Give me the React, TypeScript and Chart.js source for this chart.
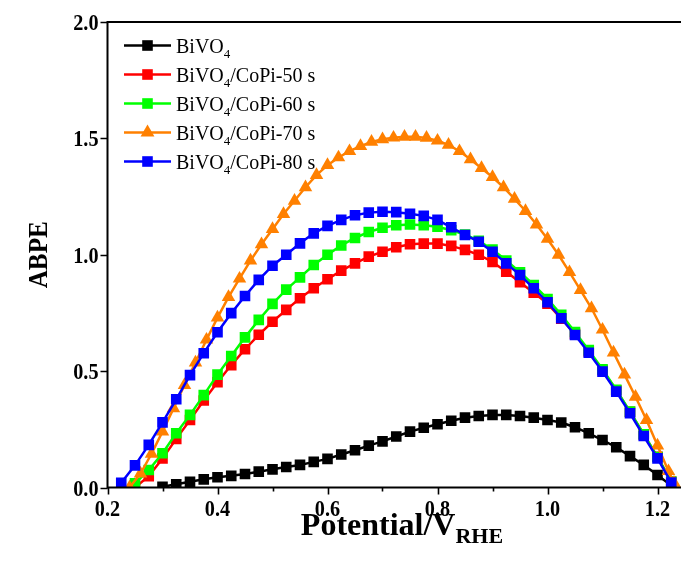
import React, { useEffect, useRef } from "react";
import { Chart, registerables } from "chart.js";

Chart.register(...registerables);

// ---------------- DATA ----------------
const seriesNames = [
  "BiVO4",
  "BiVO4/CoPi-50 s",
  "BiVO4/CoPi-60 s",
  "BiVO4/CoPi-70 s",
  "BiVO4/CoPi-80 s",
];
const seriesColors = ["#000000", "#FF0000", "#00FF00", "#FF8000", "#0000FF"];
const seriesMarkers = ["rect", "rect", "rect", "triangle", "rect"];

const blackX = [0.3, 0.325, 0.35, 0.375, 0.4, 0.425, 0.45, 0.475, 0.5, 0.525, 0.55, 0.575, 0.6, 0.625, 0.65, 0.675, 0.7, 0.725, 0.75, 0.775, 0.8, 0.825, 0.85, 0.875, 0.9, 0.925, 0.95, 0.975, 1.0, 1.025, 1.05, 1.075, 1.1, 1.125, 1.15, 1.175, 1.2, 1.225];
const blackY = [0.003, 0.014, 0.025, 0.035, 0.044, 0.05, 0.058, 0.068, 0.078, 0.088, 0.097, 0.11, 0.123, 0.142, 0.16, 0.18, 0.198, 0.219, 0.24, 0.257, 0.272, 0.287, 0.3, 0.307, 0.312, 0.312, 0.307, 0.3, 0.29, 0.279, 0.259, 0.233, 0.204, 0.173, 0.135, 0.097, 0.054, 0.008];

const coPiX = [0.25, 0.275, 0.3, 0.325, 0.35, 0.375, 0.4, 0.425, 0.45, 0.475, 0.5, 0.525, 0.55, 0.575, 0.6, 0.625, 0.65, 0.675, 0.7, 0.725, 0.75, 0.775, 0.8, 0.825, 0.85, 0.875, 0.9, 0.925, 0.95, 0.975, 1.0, 1.025, 1.05, 1.075, 1.1, 1.125, 1.15, 1.175, 1.2, 1.225];
const red50Y = [0.0, 0.049, 0.125, 0.209, 0.29, 0.374, 0.452, 0.526, 0.594, 0.656, 0.712, 0.763, 0.813, 0.856, 0.895, 0.932, 0.963, 0.992, 1.013, 1.032, 1.045, 1.048, 1.048, 1.038, 1.021, 1.0, 0.969, 0.927, 0.882, 0.837, 0.79, 0.725, 0.66, 0.585, 0.505, 0.418, 0.325, 0.228, 0.132, 0.025];
const green60Y = [0.018, 0.075, 0.147, 0.233, 0.312, 0.397, 0.485, 0.565, 0.645, 0.72, 0.789, 0.85, 0.903, 0.956, 1.0, 1.04, 1.072, 1.098, 1.116, 1.127, 1.13, 1.127, 1.12, 1.105, 1.087, 1.06, 1.022, 0.975, 0.925, 0.87, 0.81, 0.742, 0.668, 0.59, 0.508, 0.42, 0.326, 0.229, 0.131, 0.026];

const orangeX = [0.24, 0.26, 0.28, 0.3, 0.32, 0.34, 0.36, 0.38, 0.4, 0.42, 0.44, 0.46, 0.48, 0.5, 0.52, 0.54, 0.56, 0.58, 0.6, 0.62, 0.64, 0.66, 0.68, 0.7, 0.72, 0.74, 0.76, 0.78, 0.8, 0.82, 0.84, 0.86, 0.88, 0.9, 0.92, 0.94, 0.96, 0.98, 1.0, 1.02, 1.04, 1.06, 1.08, 1.1, 1.12, 1.14, 1.16, 1.18, 1.2, 1.22, 1.23];
const orange70Y = [0.0, 0.06, 0.145, 0.24, 0.34, 0.44, 0.537, 0.635, 0.73, 0.818, 0.897, 0.975, 1.045, 1.11, 1.175, 1.232, 1.29, 1.342, 1.385, 1.418, 1.445, 1.467, 1.485, 1.496, 1.503, 1.507, 1.507, 1.502, 1.49, 1.472, 1.445, 1.41, 1.372, 1.334, 1.29, 1.24, 1.188, 1.13, 1.068, 1.0, 0.925, 0.848, 0.77, 0.678, 0.58, 0.485, 0.39, 0.29, 0.18, 0.07, 0.02];

const blueX = [0.225, 0.25, 0.275, 0.3, 0.325, 0.35, 0.375, 0.4, 0.425, 0.45, 0.475, 0.5, 0.525, 0.55, 0.575, 0.6, 0.625, 0.65, 0.675, 0.7, 0.725, 0.75, 0.775, 0.8, 0.825, 0.85, 0.875, 0.9, 0.925, 0.95, 0.975, 1.0, 1.025, 1.05, 1.075, 1.1, 1.125, 1.15, 1.175, 1.2, 1.225];
const blue80Y = [0.02, 0.095, 0.183, 0.28, 0.379, 0.483, 0.577, 0.667, 0.749, 0.823, 0.892, 0.953, 1.0, 1.049, 1.092, 1.124, 1.15, 1.17, 1.181, 1.185, 1.183, 1.176, 1.167, 1.15, 1.118, 1.085, 1.056, 1.013, 0.963, 0.913, 0.856, 0.796, 0.727, 0.655, 0.579, 0.498, 0.412, 0.319, 0.221, 0.125, 0.021];

const xMajorTicks = [0.2, 0.4, 0.6, 0.8, 1.0, 1.2];
const xMinorTicks = [0.3, 0.5, 0.7, 0.9, 1.1];
const yTicks = [0.0, 0.5, 1.0, 1.5, 2.0];
const xTitleMain = "Potential/V";
const xTitleSub = "RHE";
const yTitle = "ABPE";

// ---------------- LAYOUT ----------------
const CANVAS_W = 700;
const CANVAS_H = 566;
const FONT = "'Liberation Serif', 'Times New Roman', serif";

const seriesXs = [blackX, coPiX, coPiX, orangeX, blueX];
const seriesYs = [blackY, red50Y, green60Y, orange70Y, blue80Y];

function drawMarker(ctx: CanvasRenderingContext2D, style: string, x: number, y: number, r: number, color: string) {
  ctx.fillStyle = color;
  ctx.beginPath();
  if (style === "triangle") {
    ctx.moveTo(x, y - r);
    ctx.lineTo(x + r * Math.cos(Math.PI / 6), y + r * 0.5);
    ctx.lineTo(x - r * Math.cos(Math.PI / 6), y + r * 0.5);
    ctx.closePath();
  } else {
    const s = r * Math.SQRT1_2;
    ctx.rect(x - s, y - s, 2 * s, 2 * s);
  }
  ctx.fill();
}

const decorPlugin = {
  id: "decor",
  afterDraw(chart: any) {
    const ctx: CanvasRenderingContext2D = chart.ctx;
    const { left, right, top, bottom } = chart.chartArea;
    const xs = chart.scales.x;
    const ys = chart.scales.y;
    ctx.save();
    // frame
    ctx.strokeStyle = "#000";
    ctx.lineWidth = 2;
    ctx.strokeRect(left, top, right - left, bottom - top);
    // ticks
    ctx.lineWidth = 1.6;
    ctx.beginPath();
    xMajorTicks.forEach((v) => {
      const p = Math.round(xs.getPixelForValue(v)) + 0.5;
      ctx.moveTo(p, bottom);
      ctx.lineTo(p, bottom + 7);
    });
    xMinorTicks.forEach((v) => {
      const p = Math.round(xs.getPixelForValue(v)) + 0.5;
      ctx.moveTo(p, bottom);
      ctx.lineTo(p, bottom + 4);
    });
    yTicks.forEach((v) => {
      const p = Math.round(ys.getPixelForValue(v)) + 0.5;
      ctx.moveTo(left, p);
      ctx.lineTo(left - 7, p);
    });
    ctx.stroke();

    // tick labels (slightly condensed bold serif)
    ctx.fillStyle = "#000";
    ctx.font = `bold 23px ${FONT}`;
    ctx.textBaseline = "alphabetic";
    const sx = 0.88;
    xMajorTicks.forEach((v) => {
      const p = xs.getPixelForValue(v);
      const t = v.toFixed(1);
      ctx.save();
      ctx.translate(p, 516);
      ctx.scale(sx, 1);
      ctx.textAlign = "center";
      ctx.fillText(t, 0, 0);
      ctx.restore();
    });
    yTicks.forEach((v) => {
      const p = ys.getPixelForValue(v);
      const t = v.toFixed(1);
      ctx.save();
      ctx.translate(left - 9, p + 8);
      ctx.scale(sx, 1);
      ctx.textAlign = "right";
      ctx.fillText(t, 0, 0);
      ctx.restore();
    });

    // y title
    ctx.save();
    ctx.translate(40, (top + bottom) / 2);
    ctx.rotate(-Math.PI / 2);
    ctx.font = `bold 28px ${FONT}`;
    ctx.scale(0.9, 1);
    ctx.textAlign = "center";
    ctx.textBaseline = "middle";
    ctx.fillText(yTitle, 0, 0);
    ctx.restore();

    // x title with subscript
    ctx.textAlign = "left";
    ctx.textBaseline = "alphabetic";
    ctx.font = `bold 32px ${FONT}`;
    const wMain = ctx.measureText(xTitleMain).width;
    ctx.font = `bold 22px ${FONT}`;
    const wSub = ctx.measureText(xTitleSub).width;
    const cx = 402;
    const x0 = cx - (wMain + wSub) / 2;
    ctx.font = `bold 32px ${FONT}`;
    ctx.fillText(xTitleMain, x0, 535);
    ctx.font = `bold 22px ${FONT}`;
    ctx.fillText(xTitleSub, x0 + wMain, 543);

    // legend
    const lx0 = 124, lx1 = 171, tx = 176;
    seriesNames.forEach((name, i) => {
      const yRow = 45.5 + 29 * i;
      ctx.strokeStyle = seriesColors[i];
      ctx.lineWidth = 2.5;
      ctx.beginPath();
      ctx.moveTo(lx0, yRow);
      ctx.lineTo(lx1, yRow);
      ctx.stroke();
      drawMarker(ctx, seriesMarkers[i], (lx0 + lx1) / 2, yRow, seriesMarkers[i] === "triangle" ? 8 : 7.5, seriesColors[i]);
      ctx.fillStyle = "#000";
      const base = yRow + 7;
      const head = "BiVO";
      const rest = name.slice(5);
      ctx.font = `20px ${FONT}`;
      ctx.fillText(head, tx, base);
      let x = tx + ctx.measureText(head).width;
      ctx.font = `13px ${FONT}`;
      ctx.fillText("4", x, base + 5);
      x += ctx.measureText("4").width;
      ctx.font = `20px ${FONT}`;
      ctx.fillText(rest, x, base);
    });
    ctx.restore();
  },
};

export default function App() {
  const ref = useRef<HTMLCanvasElement>(null);
  useEffect(() => {
    const canvas = ref.current;
    if (!canvas) return;
    const datasets = seriesNames.map((name, i) => ({
      label: name,
      data: seriesXs[i].map((x, j) => ({ x, y: seriesYs[i][j] })),
      borderColor: seriesColors[i],
      backgroundColor: seriesColors[i],
      borderWidth: 2.5,
      pointStyle: seriesMarkers[i],
      pointRadius: seriesMarkers[i] === "triangle" ? 7.8 : 7.5,
      pointBorderWidth: 0,
      pointBackgroundColor: seriesColors[i],
      tension: 0,
      order: seriesNames.length - i,
    }));
    const chart = new Chart(canvas, {
      type: "line",
      data: { datasets },
      plugins: [decorPlugin],
      options: {
        animation: false,
        responsive: false,
        maintainAspectRatio: false,
        devicePixelRatio: 1,
        layout: { padding: { left: 0, top: 22, right: CANVAS_W - 685, bottom: 0 } },
        plugins: { legend: { display: false }, tooltip: { enabled: false }, title: { display: false } },
        scales: {
          x: {
            type: "linear",
            min: 0.2,
            max: 1.25,
            grid: { display: false, drawTicks: false },
            border: { display: false },
            afterBuildTicks: (scale: any) => {
              scale.ticks = xMajorTicks.map((v) => ({ value: v }));
            },
            afterFit: (scale: any) => {
              scale.height = CANVAS_H - 487.5;
            },
            ticks: { display: false },
          },
          y: {
            type: "linear",
            min: 0,
            max: 2,
            grid: { display: false, drawTicks: false },
            border: { display: false },
            afterBuildTicks: (scale: any) => {
              scale.ticks = yTicks.map((v) => ({ value: v }));
            },
            afterFit: (scale: any) => {
              scale.width = 107.5;
            },
            ticks: { display: false },
          },
        },
      } as any,
    });
    return () => chart.destroy();
  }, []);
  return (
    <div style={{ position: "absolute", left: 0, top: 0, width: 681, height: 566, overflow: "hidden", background: "#fff" }}>
      <canvas ref={ref} width={CANVAS_W} height={CANVAS_H} style={{ display: "block", width: CANVAS_W, height: CANVAS_H }} />
    </div>
  );
}
